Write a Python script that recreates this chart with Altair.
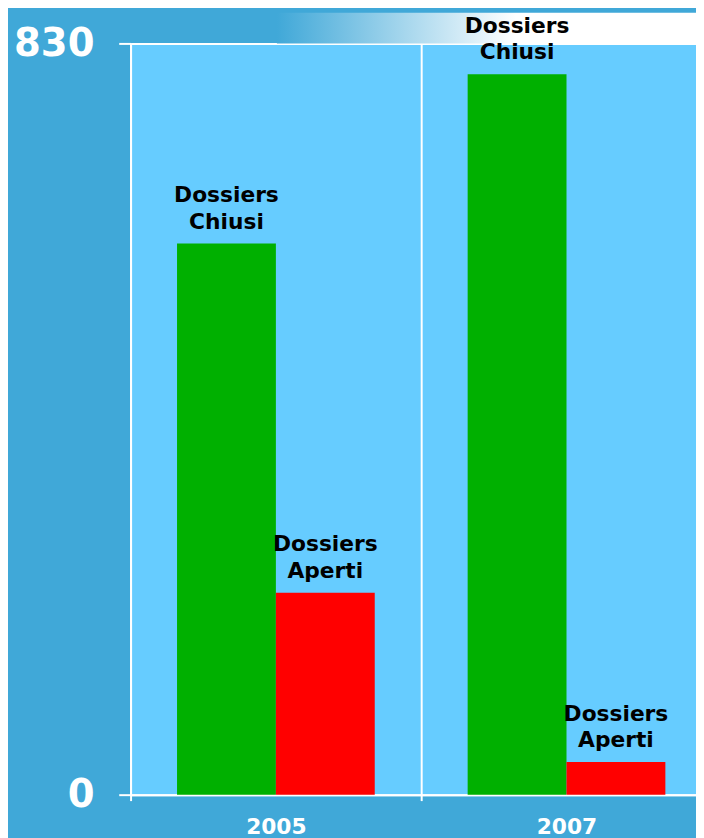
import altair as alt
import pandas as pd

years = ["2005", "2007"]
tipi = ["Chiusi", "Aperti"]
chiusi = [609, 796]
aperti = [223, 36]
labels = {"Chiusi": "Dossiers\nChiusi", "Aperti": "Dossiers\nAperti"}

rows = []
for i, y in enumerate(years):
    rows.append({"year": y, "tipo": "Chiusi", "value": chiusi[i], "label": labels["Chiusi"]})
    rows.append({"year": y, "tipo": "Aperti", "value": aperti[i], "label": labels["Aperti"]})
df = pd.DataFrame(rows)

FONT = "DejaVu Sans"

x_enc = alt.X(
    "year:N",
    sort=years,
    scale=alt.Scale(paddingInner=0, paddingOuter=0, range=[0, 588]),
    axis=alt.Axis(
        title=None,
        labelAngle=0,
        labelFont=FONT,
        labelFontWeight="bold",
        labelFontSize=22,
        labelColor="white",
        labelPadding=16,
        tickBand="extent",
        tickColor="white",
        tickSize=6,
        tickWidth=2,
        domainColor="white",
        domainWidth=2,
        grid=True,
        gridColor="white",
        gridWidth=2,
        gridOpacity=1,
    ),
)
xo_enc = alt.XOffset(
    "tipo:N", sort=tipi, scale=alt.Scale(paddingOuter=0.47, paddingInner=0)
)
y_enc = alt.Y(
    "value:Q",
    scale=alt.Scale(domain=[0, 830], nice=False),
    axis=alt.Axis(
        title=None,
        values=[0, 830],
        labelFont=FONT,
        labelFontWeight="bold",
        labelFontSize=39,
        labelColor="white",
        labelPadding=25,
        tickColor="white",
        tickSize=12,
        tickWidth=2,
        domainColor="white",
        domainWidth=2,
        grid=True,
        gridColor="white",
        gridWidth=2,
        gridOpacity=1,
    ),
)

base = alt.Chart(df).encode(x=x_enc, xOffset=xo_enc, y=y_enc)

deco = alt.Chart(pd.DataFrame({"d": [0]})).mark_rect(
    fill=alt.Gradient(
        gradient="linear",
        x1=0, x2=1, y1=0, y2=0,
        stops=[
            alt.GradientStop(offset=0, color="#40a8d8"),
            alt.GradientStop(offset=0.55, color="#ffffff"),
            alt.GradientStop(offset=1, color="#ffffff"),
        ],
    )
).encode(x=alt.value(148), x2=alt.value(588), y=alt.value(-31), y2=alt.value(0))

bars = base.mark_bar().encode(
    color=alt.Color(
        "tipo:N",
        scale=alt.Scale(domain=tipi, range=["#00b000", "#ff0000"]),
        legend=None,
    )
)

text = base.mark_text(
    baseline="alphabetic",
    dy=-42,
    lineBreak="\n",
    lineHeight=27,
    font=FONT,
    fontWeight="bold",
    fontSize=22,
    color="black",
).encode(text="label:N")

chart = (
    alt.layer(deco, bars, text)
    .properties(
        width=572,
        height=760,
        autosize=alt.AutoSizeParams(type="none"),
        padding={"left": 124, "top": 31, "right": 0, "bottom": 39},
    )
    .configure(background="#40a8d8")
    .configure_view(fill="#66ccff", stroke=None)
)

chart.save("out.html", embed_options={"renderer": "svg", "actions": False})
